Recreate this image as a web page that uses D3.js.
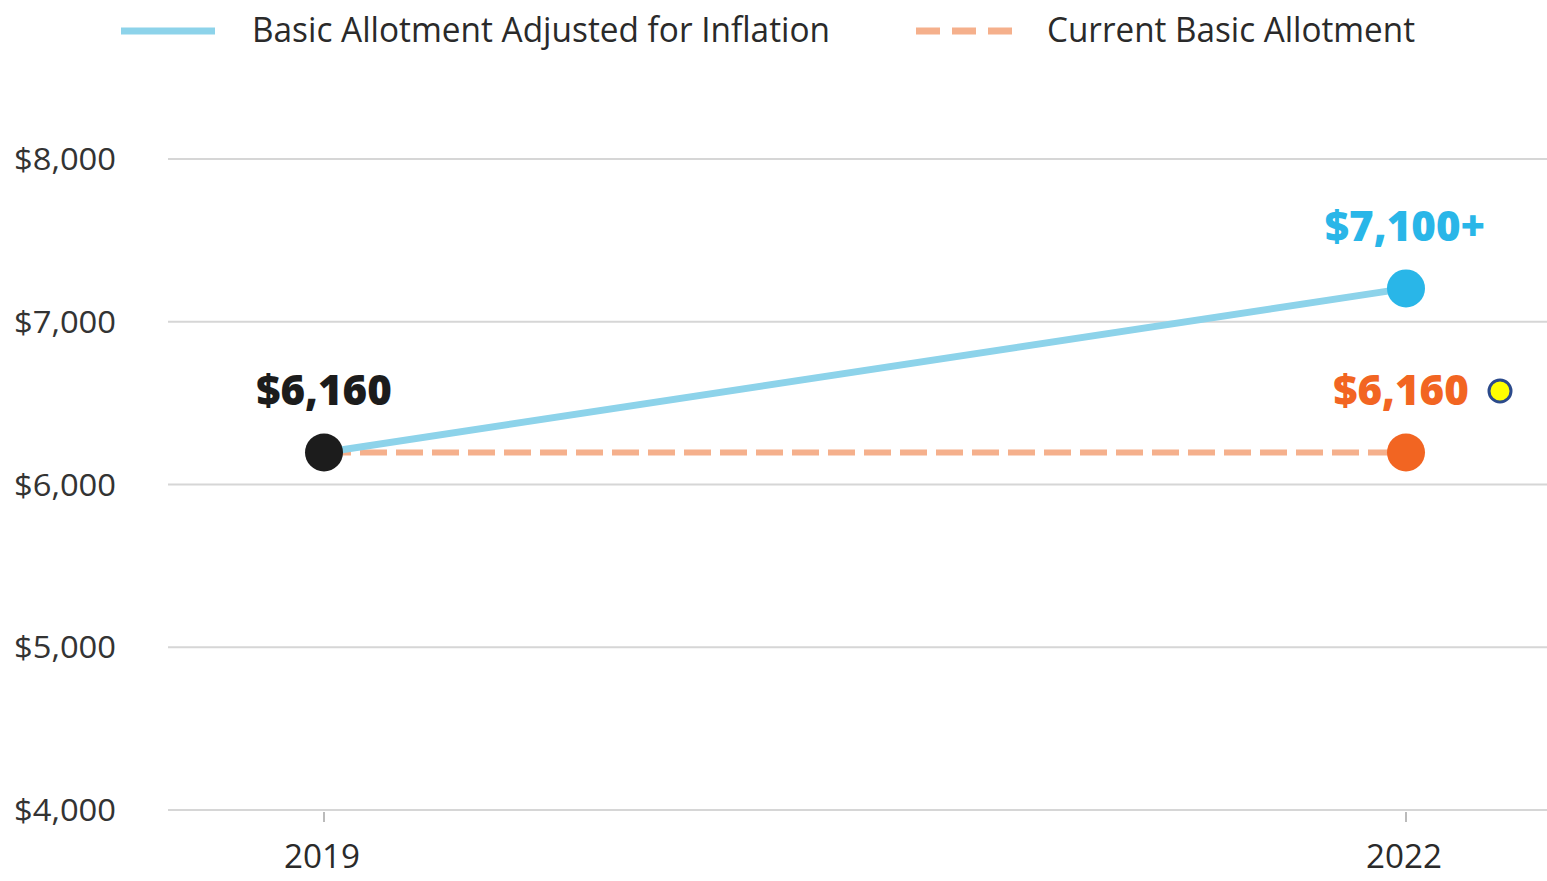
<!DOCTYPE html>
<html>
<head>
<meta charset="utf-8">
<script src="https://cdn.jsdelivr.net/npm/d3@7"></script>
<style>
  html, body { margin: 0; padding: 0; background: #fff; }
  svg { display: block; }
</style>
</head>
<body>
<svg id="chart" width="1547" height="881"></svg>
<script>
// data
var years = [2019, 2022];
var adjusted = [6197, 7205];      // basic allotment adjusted for inflation
var current = [6197, 6197];       // current basic allotment
var yTicks = [4000, 5000, 6000, 7000, 8000];
var pointLabels = ["$6,160", "$7,100+", "$6,160"];
var legendNames = ["Basic Allotment Adjusted for Inflation", "Current Basic Allotment"];

var svg = d3.select("#chart");

var x = d3.scaleLinear().domain([2019, 2022]).range([324, 1406]);
var y = d3.scaleLinear().domain([4000, 8000]).range([810, 159]);

var labelFont = "'Open Sans', 'Noto Sans', sans-serif";
var boldFont = "'Open Sans', 'Lato', sans-serif";

// gridlines
svg.append("g").selectAll("line").data(yTicks).enter().append("line")
    .attr("x1", 168).attr("x2", 1547)
    .attr("y1", function (d) { return y(d); })
    .attr("y2", function (d) { return y(d); })
    .attr("stroke", "#d6d6d6")
    .attr("stroke-width", 2);

// y labels
svg.append("g").selectAll("text").data(yTicks).enter().append("text")
    .attr("x", 116)
    .attr("y", function (d) { return y(d) + 11; })
    .attr("text-anchor", "end")
    .attr("font-family", labelFont)
    .attr("font-size", 31)
    .attr("fill", "#333")
    .attr("textLength", 102)
    .attr("lengthAdjust", "spacingAndGlyphs")
    .text(function (d) { return "$" + d3.format(",")(d); });

// x ticks + labels
var xg = svg.append("g");
years.forEach(function (yr) {
    xg.append("line")
        .attr("x1", x(yr)).attr("x2", x(yr))
        .attr("y1", 812).attr("y2", 822)
        .attr("stroke", "#bbb").attr("stroke-width", 2);
    xg.append("text")
        .attr("x", x(yr) - 2)
        .attr("y", 868)
        .attr("text-anchor", "middle")
        .attr("font-family", labelFont)
        .attr("font-size", 32)
        .attr("fill", "#2a2a2a")
        .attr("textLength", 76)
        .attr("lengthAdjust", "spacingAndGlyphs")
        .text(yr);
});

var line = d3.line()
    .x(function (d) { return x(d.year); })
    .y(function (d) { return y(d.value); });

var adjData = years.map(function (yr, i) { return { year: yr, value: adjusted[i] }; });
var curData = years.map(function (yr, i) { return { year: yr, value: current[i] }; });

svg.append("path")
    .datum(curData)
    .attr("d", line)
    .attr("fill", "none")
    .attr("stroke", "#f5b08c")
    .attr("stroke-width", 6)
    .attr("stroke-dasharray", "27,9");

svg.append("path")
    .datum(adjData)
    .attr("d", line)
    .attr("fill", "none")
    .attr("stroke", "#8dd3ea")
    .attr("stroke-width", 7);

// dots
svg.append("circle")
    .attr("cx", x(years[1])).attr("cy", y(current[1])).attr("r", 19)
    .attr("fill", "#f26522");
svg.append("circle")
    .attr("cx", x(years[1])).attr("cy", y(adjusted[1])).attr("r", 19)
    .attr("fill", "#29b6e8");
svg.append("circle")
    .attr("cx", x(years[0])).attr("cy", y(adjusted[0])).attr("r", 19)
    .attr("fill", "#1c1c1c");

// value labels
function valueLabel(text, cx, cy, color) {
    svg.append("text")
        .attr("x", cx)
        .attr("y", cy)
        .attr("text-anchor", "middle")
        .attr("font-family", boldFont)
        .attr("font-weight", 800)
        .attr("font-size", 42)
        .attr("fill", color)
        .text(text);
}
valueLabel(pointLabels[0], x(years[0]), y(adjusted[0]) - 47, "#1c1c1c");
valueLabel(pointLabels[1], x(years[1]) - 1, y(adjusted[1]) - 47, "#29b6e8");
valueLabel(pointLabels[2], x(years[1]) - 5, y(current[1]) - 47, "#f26522");

// marker
svg.append("circle")
    .attr("cx", 1500).attr("cy", 391).attr("r", 11)
    .attr("fill", "#ffff00")
    .attr("stroke", "#2b4a8b")
    .attr("stroke-width", 3);

// legend
var lg = svg.append("g");
lg.append("line")
    .attr("x1", 121).attr("x2", 215).attr("y1", 31).attr("y2", 31)
    .attr("stroke", "#8dd3ea").attr("stroke-width", 7);
lg.append("text")
    .attr("x", 252).attr("y", 42)
    .attr("font-family", labelFont)
    .attr("font-size", 34)
    .attr("fill", "#2a2a2a")
    .attr("textLength", 578)
    .attr("lengthAdjust", "spacingAndGlyphs")
    .text(legendNames[0]);
lg.append("line")
    .attr("x1", 916).attr("x2", 1014).attr("y1", 31).attr("y2", 31)
    .attr("stroke", "#f5b08c").attr("stroke-width", 7)
    .attr("stroke-dasharray", "24,12");
lg.append("text")
    .attr("x", 1047).attr("y", 42)
    .attr("font-family", labelFont)
    .attr("font-size", 34)
    .attr("fill", "#2a2a2a")
    .attr("textLength", 368)
    .attr("lengthAdjust", "spacingAndGlyphs")
    .text(legendNames[1]);
</script>
</body>
</html>
